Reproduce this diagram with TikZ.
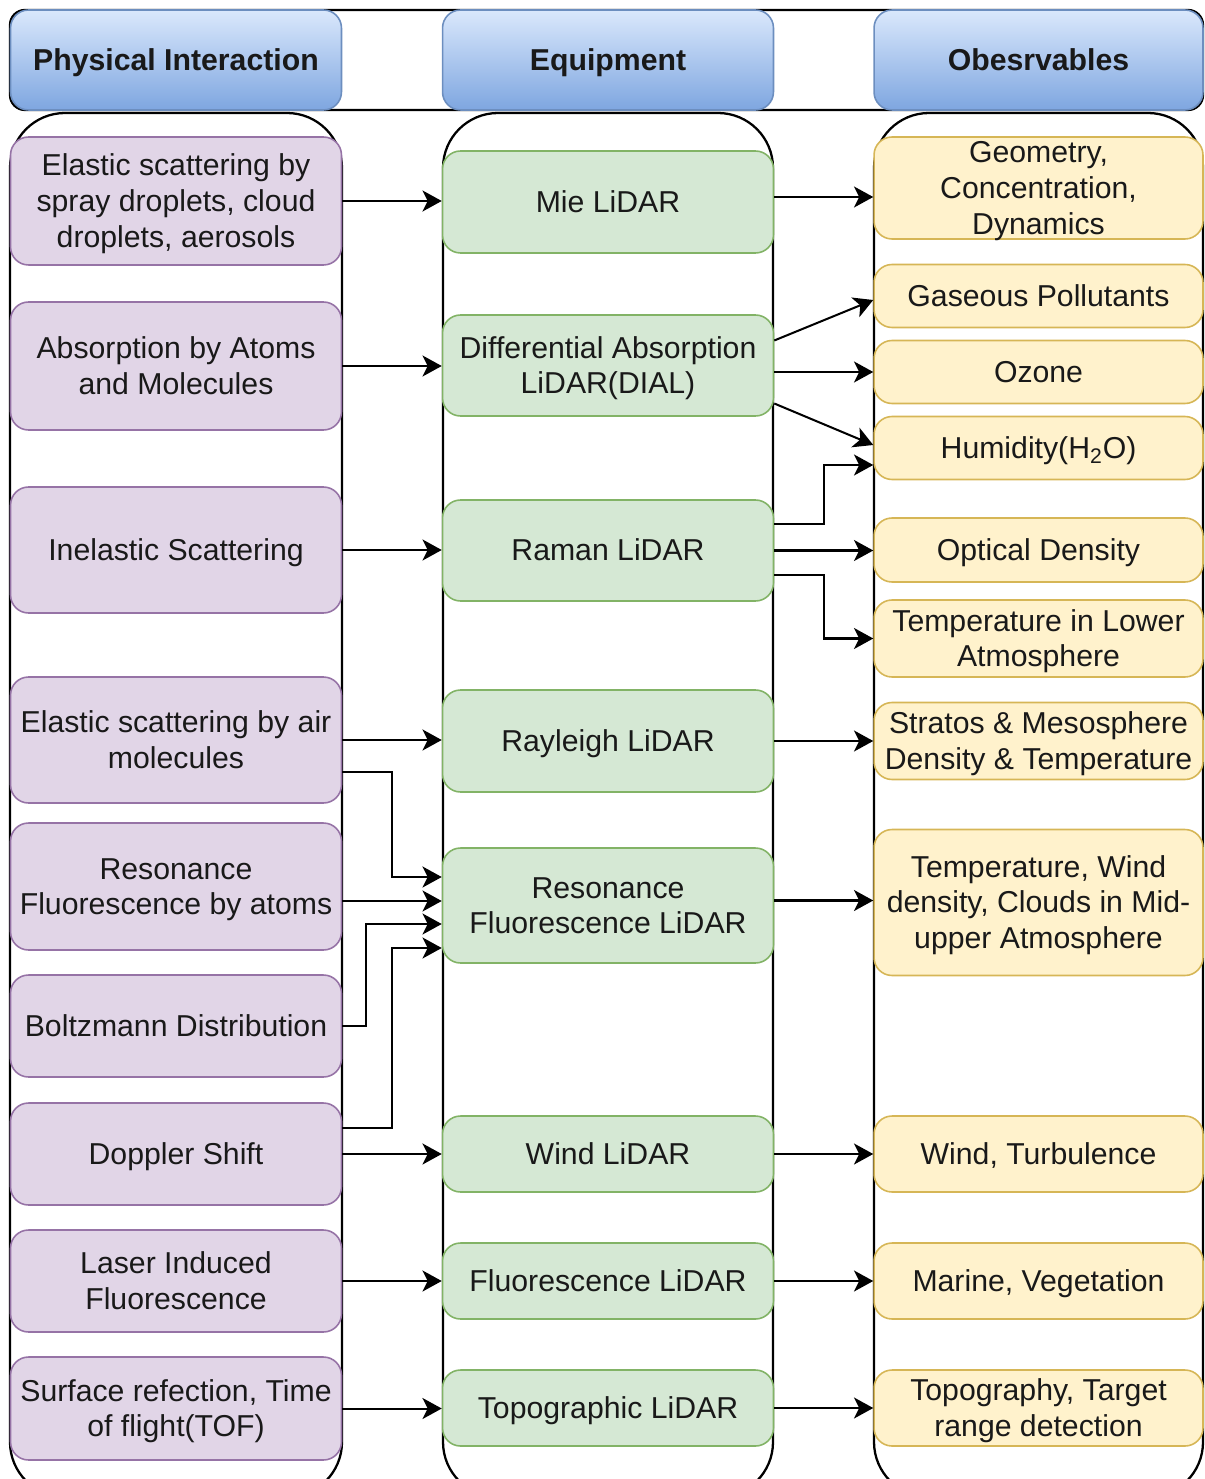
\documentclass[tikz,border=0pt]{standalone}
\usepackage{fontspec}
\setmainfont{Liberation Sans}
\usetikzlibrary{arrows.meta}

\definecolor{physfill}{HTML}{E1D5E7}
\definecolor{physline}{HTML}{9673A6}
\definecolor{equipfill}{HTML}{D5E8D4}
\definecolor{equipline}{HTML}{82B366}
\definecolor{obsfill}{HTML}{FFF2CC}
\definecolor{obsline}{HTML}{D6B656}
\definecolor{headtop}{HTML}{DAE8FC}
\definecolor{headbot}{HTML}{7EA6E0}
\definecolor{headline}{HTML}{6C8EBF}

\begin{document}
\begin{tikzpicture}[x=0.02cm,y=-0.02cm]
        \tikzstyle{box} = [rounded corners=0.36cm,line width=0.9pt,align=center,inner xsep=2pt,inner ysep=0pt,minimum width=6.62cm,font=\fontsize{17.2}{20.4}\selectfont,text=black!90,text height=16.28pt,text depth=4.36pt]
        \tikzstyle{two} = [text height=36.68pt]
        \tikzstyle{three} = [text height=57.08pt]
        \tikzstyle{phys} = [box,fill=physfill,draw=physline]
        \tikzstyle{equip} = [box,fill=equipfill,draw=equipline]
        \tikzstyle{obs} = [box,fill=obsfill,draw=obsline,minimum width=6.58cm]
        \tikzstyle{head} = [box,top color=headtop,bottom color=headbot,draw=headline,minimum height=2cm,font=\fontsize{17.2}{20.4}\selectfont\bfseries]
        \tikzstyle{col} = [draw=black,line width=1.3pt,rounded corners=1.1cm]
        \tikzstyle{arr} = [-{Stealth[length=11pt,width=12pt,inset=3pt]},line width=1.15pt]

        \clip (0,0) rectangle (1204,1479);

        % columns and header frame
        \draw[col] (10,113) rectangle (342,1497);
        \draw[col] (443,113) rectangle (773,1497);
        \draw[col] (874,113) rectangle (1203,1497);
        \draw[col,rounded corners=0.3cm] (10,10) rectangle (1203,110);

        \node[head] (H1) at (176,60) {Physical Interaction};
        \node[head] (H2) at (608,60) {Equipment};
        \node[head,minimum width=6.58cm] (H3) at (1038.5,60) {Obesrvables};


        \node[phys,three,minimum height=2.56cm] (P1) at (176,201) {Elastic scattering by\\spray droplets, cloud\\droplets, aerosols};
        \node[phys,two,minimum height=2.56cm] (P2) at (176,366) {Absorption by Atoms\\and Molecules};
        \node[phys,minimum height=2.52cm] (P3) at (176,550) {Inelastic Scattering};
        \node[phys,two,minimum height=2.52cm] (P4) at (176,740) {Elastic scattering by air\\molecules};
        \node[phys,two,minimum height=2.54cm] (P5) at (176,886.5) {Resonance\\Fluorescence by atoms};
        \node[phys,minimum height=2.04cm] (P6) at (176,1026) {Boltzmann Distribution};
        \node[phys,minimum height=2.04cm] (P7) at (176,1154) {Doppler Shift};
        \node[phys,two,minimum height=2.04cm] (P8) at (176,1281) {Laser Induced\\Fluorescence};
        \node[phys,two,minimum height=2.06cm] (P9) at (176,1408.5) {Surface refection, Time\\of flight(TOF)};


        \node[equip,minimum height=2.04cm] (E1) at (608,202) {Mie LiDAR};
        \node[equip,two,minimum height=2.02cm] (E2) at (608,365.5) {Differential Absorption\\LiDAR(DIAL)};
        \node[equip,minimum height=2.02cm] (E3) at (608,550.5) {Raman LiDAR};
        \node[equip,minimum height=2.04cm] (E4) at (608,741) {Rayleigh LiDAR};
        \node[equip,two,minimum height=2.3cm] (E5) at (608,905.5) {Resonance\\Fluorescence LiDAR};
        \node[equip,minimum height=1.52cm] (E6) at (608,1154) {Wind LiDAR};
        \node[equip,minimum height=1.52cm] (E7) at (608,1281) {Fluorescence LiDAR};
        \node[equip,minimum height=1.52cm] (E8) at (608,1408) {Topographic LiDAR};


        \node[obs,three,minimum height=2.04cm,inner ysep=-0.07cm] (O1) at (1038.5,188) {Geometry,\\Concentration,\\Dynamics};
        \node[obs,minimum height=1.26cm] (O2) at (1038.5,296) {Gaseous Pollutants};
        \node[obs,minimum height=1.26cm] (O3) at (1038.5,372) {Ozone};
        \node[obs,minimum height=1.26cm] (O4) at (1038.5,448) {Humidity(H\textsubscript{2}O)};
        \node[obs,minimum height=1.28cm] (O5) at (1038.5,550) {Optical Density};
        \node[obs,two,minimum height=1.54cm] (O6) at (1038.5,638.5) {Temperature in Lower\\Atmosphere};
        \node[obs,two,minimum height=1.54cm] (O7) at (1038.5,741) {Stratos \& Mesosphere\\Density \& Temperature};
        \node[obs,three,minimum height=2.92cm] (O8) at (1038.5,902.5) {Temperature, Wind\\density, Clouds in Mid-\\upper Atmosphere};
        \node[obs,minimum height=1.52cm] (O9) at (1038.5,1154) {Wind, Turbulence};
        \node[obs,minimum height=1.52cm] (O10) at (1038.5,1281) {Marine, Vegetation};
        \node[obs,two,minimum height=1.52cm] (O11) at (1038.5,1408) {Topography, Target\\range detection};


        % interaction -> equipment
        \draw[arr] (P1.east) -- (P1.east -| E1.west);
        \draw[arr] (P2.east) -- (P2.east -| E2.west);
        \draw[arr] (P3.east) -- (P3.east -| E3.west);
        \draw[arr] (P4.east) -- (P4.east -| E4.west);
        \draw[arr] ([yshift=-0.64cm]P4.east) -- ++(50,0) |- ([yshift=0.57cm]E5.west);
        \draw[arr] ([yshift=-0.29cm]P5.east) -- ([yshift=-0.29cm]P5.east -| E5.west);
        \draw[arr] (P6.east) -- ++(24,0) |- ([yshift=-0.37cm]E5.west);
        \draw[arr] ([yshift=0.52cm]P7.east) -- ++(50,0) |- ([yshift=-0.85cm]E5.west);
        \draw[arr] (P7.east) -- (P7.east -| E6.west);
        \draw[arr] (P8.east) -- (P8.east -| E7.west);
        \draw[arr] (P9.east) -- (P9.east -| E8.west);


        % equipment -> observables
        \draw[arr] ([yshift=0.1cm]E1.east) -- ([yshift=0.1cm]E1.east -| O1.west);
        \draw[arr] ([yshift=0.5cm]E2.east) -- ([yshift=-0.08cm]O2.west);
        \draw[arr] (E2.east |- O3.west) -- (O3.west);
        \draw[arr] ([yshift=-0.76cm]E2.east) -- ([yshift=0.06cm]O4.west);
        \draw[arr] ([yshift=0.53cm]E3.east) -- ++(50,0) |- ([yshift=-0.34cm]O4.west);
        \draw[arr] (E3.east) -- (E3.east -| O5.west);
        \draw[arr] ([yshift=-0.49cm]E3.east) -- ++(50,0) |- (O6.west);
        \draw[arr] (E4.east) -- (E4.east -| O7.west);
        \draw[arr] ([yshift=0.1cm]E5.east) -- ([yshift=0.1cm]E5.east -| O8.west);
        \draw[arr] (E6.east) -- (E6.east -| O9.west);
        \draw[arr] (E7.east) -- (E7.east -| O10.west);
        \draw[arr] (E8.east) -- (E8.east -| O11.west);

\end{tikzpicture}
\end{document}
